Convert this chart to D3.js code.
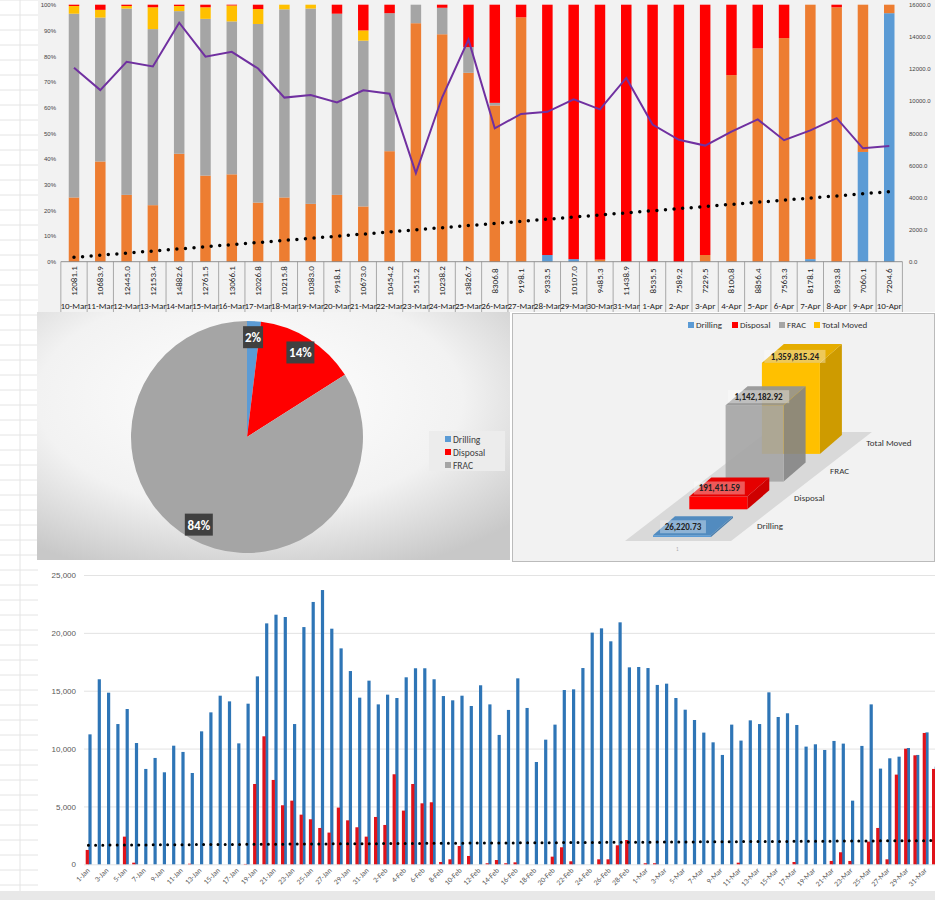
<!DOCTYPE html>
<html>
<head>
<meta charset="utf-8">
<script src="https://cdn.jsdelivr.net/npm/d3@7"></script>
<style>
  body { margin: 0; background: #fff; }
  svg { display: block; font-family: Calibri, Carlito, "Liberation Sans", Arial, sans-serif; }
</style>
</head>
<body>
<svg id="chart" width="935" height="900"></svg>
<script>
// ---- top chart: 100% stacked share per day + total moved ----
const topDays = ['10-Mar','11-Mar','12-Mar','13-Mar','14-Mar','15-Mar','16-Mar','17-Mar','18-Mar','19-Mar','20-Mar','21-Mar','22-Mar','23-Mar','24-Mar','25-Mar','26-Mar','27-Mar','28-Mar','29-Mar','30-Mar','31-Mar','1-Apr','2-Apr','3-Apr','4-Apr','5-Apr','6-Apr','7-Apr','8-Apr','9-Apr','10-Apr']
const shareBlue   = [0,0,0,0,0,0,0,0,0,0,0,0,0,0,0,0,0,0,2.6,1,0,0,0,0,0,0,0,0,1,0,42.7,96.7]
const shareOrange = [25,39,26,22,42,33.5,34,23,25,22.5,26,21.5,43,92.8,88.5,73.5,60.8,95.1,0,0,0.8,0,0,0,2.6,72.6,83,87,99,99,57.3,3.3]
const shareGray   = [71.5,56,72.5,68.5,55.5,61,59.5,69.5,73.2,76,70.5,64.5,53.7,7.2,10.3,10,1,0,0,0,0,0,0,0,0,0,0,0,0,0,0,0]
const shareYellow = [3,3,1,8.5,2,4.5,6.2,5.8,1.8,1.5,0,4,0,0,0,0,0,0,0,0,0,0,0,0,0,0,0,0,0,0,0,0]
const shareRed    = [0.5,2,0.5,1,0.5,1,0.3,1.7,0,0,3.5,10,3.3,0,1.2,16.5,38.2,4.9,97.4,99,99.2,100,100,100,97.4,27.4,17,13,0,1,0,0]
const dayTotals = [12081.1,10683.9,12445.0,12153.4,14882.6,12761.5,13066.1,12026.8,10215.8,10383.0,9918.1,10673.0,10454.2,5515.2,10238.2,13826.7,8306.8,9198.1,9333.5,10107.0,9485.3,11438.9,8535.5,7589.2,7229.5,8100.8,8856.4,7563.3,8178.1,8933.8,7060.1,7204.6]
const topTrend = [270, 4360]

// ---- totals (pie + 3D bars) ----
const totalNames = ['Drilling','Disposal','FRAC','Total Moved']
const totalValues = [26220.73, 191411.59, 1142182.92, 1359815.24]

// ---- bottom chart: daily volumes from 1-Jan ----
const dailyBlue = [11230,15990,14830,12120,13420,10480,8240,9190,7950,10250,9710,7890,11490,13130,14570,14080,10450,13880,16240,20820,21570,21370,12120,20500,22670,23700,20360,18660,16700,14400,15870,13820,14660,14370,16160,16940,16940,15990,14540,14170,14570,13680,15470,13820,11180,13340,16070,13510,8840,10770,12070,15060,15120,16960,20020,20390,19270,20910,17020,17050,16960,15500,15610,14370,13360,12470,11380,10540,9450,12070,10690,12440,12120,14860,12730,13050,12040,10170,10370,9880,10660,10430,5500,10230,13820,8270,9160,9300,10050,9450,11400,8440]
const dailyRed  = [1240,0,0,0,2390,140,0,0,0,0,0,50,0,0,0,0,0,30,6940,11060,7290,5100,5500,4290,3890,3140,2740,4900,3800,3200,2390,4090,3400,7780,4640,6940,5270,5360,200,430,1580,720,0,90,370,90,170,0,0,0,660,1470,260,0,0,430,430,1640,2100,0,90,90,0,0,0,0,0,0,0,0,140,0,0,0,0,0,200,0,0,0,290,1040,290,0,1960,3140,430,7750,9990,9420,11350,8240]
const dailyTrend = [1650, 2050]
const yTicksBottom = [0, 5000, 10000, 15000, 20000, 25000]

const C = { blue: '#5b9bd5', orange: '#ed7d31', gray: '#a5a5a5', yellow: '#ffc000', red: '#ff0000', purple: '#7030a0' }

const svg = d3.select('#chart')
const defs = svg.append('defs')

// spreadsheet gutter on the left
const gutter = svg.append('g')
gutter.append('rect').attr('width', 38).attr('height', 900).attr('fill', '#fff')
d3.range(0, 900, 15).forEach(y => gutter.append('line').attr('x1', 0).attr('x2', 38).attr('y1', y).attr('y2', y).attr('stroke', '#e4e4e4'))
gutter.append('line').attr('x1', 20).attr('x2', 20).attr('y1', 0).attr('y2', 900).attr('stroke', '#e4e4e4')

// ================= TOP CHART =================
const topG = svg.append('g')
topG.append('rect').attr('x', 38).attr('y', 0).attr('width', 897).attr('height', 312).attr('fill', '#f2f2f2')

const xTop = d3.scaleBand().domain(topDays).range([60.85, 902.4])
const yPct = d3.scaleLinear().domain([0, 1]).range([261.7, 4.7])
const yVol = d3.scaleLinear().domain([0, 16000]).range([261.7, 4.7])

const rows = topDays.map((d, i) => ({ day: d, blue: shareBlue[i], orange: shareOrange[i], gray: shareGray[i], yellow: shareYellow[i], red: shareRed[i] }))
const keys = ['blue', 'orange', 'gray', 'yellow', 'red']
const stacked = d3.stack().keys(keys).offset(d3.stackOffsetExpand)(rows)
const bw = 10.5
topG.append('g').selectAll('g').data(stacked).join('g')
  .attr('fill', s => C[s.key])
  .selectAll('rect').data(s => s).join('rect')
  .attr('x', d => xTop(d.data.day) + xTop.bandwidth() / 2 - bw / 2)
  .attr('width', bw)
  .attr('y', d => yPct(d[1]))
  .attr('height', d => yPct(d[0]) - yPct(d[1]))

const axL = topG.append('g').attr('transform', 'translate(58,0)')
  .call(d3.axisLeft(yPct).tickValues(d3.range(0, 1.01, 0.1)).tickFormat(d3.format('.0%')).tickSize(0).tickPadding(2))
axL.select('.domain').remove()
axL.selectAll('text').attr('font-size', 6).attr('fill', '#444')
const axR = topG.append('g').attr('transform', 'translate(907,0)')
  .call(d3.axisRight(yVol).tickValues(d3.range(0, 16001, 2000)).tickFormat(d3.format('.1f')).tickSize(0).tickPadding(2))
axR.select('.domain').remove()
axR.selectAll('text').attr('font-size', 6).attr('fill', '#444')

// dotted trend
topG.append('line')
  .attr('x1', xTop(topDays[0]) + xTop.bandwidth() / 2).attr('y1', yVol(topTrend[0]))
  .attr('x2', xTop(topDays[topDays.length - 1]) + xTop.bandwidth() / 2).attr('y2', yVol(topTrend[1]))
  .attr('stroke', '#000').attr('stroke-width', 3.5).attr('stroke-linecap', 'round').attr('stroke-dasharray', '0 8.6')

// total line
topG.append('path').datum(dayTotals)
  .attr('d', d3.line().x((v, i) => xTop(topDays[i]) + xTop.bandwidth() / 2).y(v => yVol(v)))
  .attr('fill', 'none').attr('stroke', C.purple).attr('stroke-width', 2)

// data table under the axis
const table = topG.append('g')
table.append('line').attr('x1', xTop.range()[0]).attr('x2', xTop.range()[1]).attr('y1', 261.7).attr('y2', 261.7).attr('stroke', '#777').attr('stroke-width', 0.8)
table.selectAll('.sep').data(topDays.concat(['end'])).join('line')
  .attr('x1', (d, i) => xTop.range()[0] + i * xTop.step()).attr('x2', (d, i) => xTop.range()[0] + i * xTop.step())
  .attr('y1', 261.7).attr('y2', 312).attr('stroke', '#888').attr('stroke-width', 0.7)
table.selectAll('.val').data(dayTotals).join('text')
  .attr('transform', (v, i) => `translate(${xTop(topDays[i]) + xTop.bandwidth() / 2 + 3},281) rotate(-90)`)
  .attr('text-anchor', 'middle').attr('font-size', 9).attr('fill', '#222')
  .text(v => v.toFixed(1))
table.selectAll('.day').data(topDays).join('text')
  .attr('x', d => xTop(d) + xTop.bandwidth() / 2).attr('y', 309)
  .attr('text-anchor', 'middle').attr('font-size', 9).attr('fill', '#222')
  .text(d => d)

// ================= PIE =================
const pg = defs.append('radialGradient').attr('id', 'pieBg').attr('cx', '45%').attr('cy', '35%').attr('r', '75%')
pg.append('stop').attr('offset', '0%').attr('stop-color', '#ffffff')
pg.append('stop').attr('offset', '60%').attr('stop-color', '#f2f2f2')
pg.append('stop').attr('offset', '100%').attr('stop-color', '#c8c8c8')
svg.append('rect').attr('x', 37).attr('y', 312).attr('width', 473).attr('height', 248).attr('fill', 'url(#pieBg)')

const pieNames = totalNames.slice(0, 3)
const pieColors = [C.blue, C.red, C.gray]
const pieData = d3.pie().sort(null)(totalValues.slice(0, 3))
const pieG = svg.append('g').attr('transform', 'translate(247,437)')
const arc = d3.arc().innerRadius(0).outerRadius(116)
const labelArc = d3.arc().innerRadius(100).outerRadius(100)
pieG.selectAll('path').data(pieData).join('path')
  .attr('d', arc).attr('fill', (d, i) => pieColors[i])
const pct = d3.format('.0%')
const sum = d3.sum(totalValues.slice(0, 3))
const lab = pieG.selectAll('.lab').data(pieData).join('g').attr('transform', d => `translate(${labelArc.centroid(d)})`)
lab.append('rect').attr('x', d => d.value / sum < 0.05 ? -10 : -14).attr('y', -11)
  .attr('width', d => d.value / sum < 0.05 ? 20 : 28).attr('height', 22).attr('fill', '#404040')
lab.append('text').attr('text-anchor', 'middle').attr('dy', 5).attr('fill', '#fff')
  .attr('font-size', 13).attr('font-weight', 'bold').text(d => pct(d.value / sum))

const pl = svg.append('g').attr('transform', 'translate(429,431)')
pl.append('rect').attr('width', 76).attr('height', 40).attr('fill', '#ececec')
pieNames.forEach((n, i) => {
  pl.append('rect').attr('x', 16).attr('y', 5 + i * 13).attr('width', 6).attr('height', 6).attr('fill', pieColors[i])
  pl.append('text').attr('x', 24).attr('y', 11.5 + i * 13).attr('font-size', 9.5).attr('fill', '#404040').text(n)
})

// ================= 3D BARS =================
const b3 = svg.append('g')
b3.append('rect').attr('x', 512.5).attr('y', 313.5).attr('width', 422).attr('height', 248).attr('fill', '#f2f2f2').attr('stroke', '#bbb')
const colors3 = [C.blue, C.red, C.gray, C.yellow]
const h3 = d3.scaleLinear().domain([0, d3.max(totalValues)]).range([0, 91])
const step3 = [36.3, -27.7], depth = [22, -19], fw = 58, origin = [653, 537]
const pos = i => [origin[0] + i * step3[0], origin[1] + i * step3[1]]
const catOffset = [37, 40, 34, 47]
const poly = pts => 'M' + pts.map(p => p.join(',')).join('L') + 'Z'
// floor
const fl = [[origin[0] - 28, origin[1] + 4], [origin[0] + 78, origin[1] + 4], [pos(3)[0] + 110, pos(3)[1] - 22], [pos(3)[0] + 5, pos(3)[1] - 22]]
b3.append('path').attr('d', poly(fl)).attr('fill', '#d9d9d9')

// back to front so nearer blocks overlap farther ones
d3.range(totalValues.length).reverse().forEach(i => {
  const v = totalValues[i]
  const [x, y] = pos(i), h = h3(v), col = d3.color(colors3[i])
  const g = b3.append('g').attr('opacity', i === 2 ? 0.9 : 1)
  g.append('path').attr('d', poly([[x + fw, y], [x + fw + depth[0], y + depth[1]], [x + fw + depth[0], y + depth[1] - h], [x + fw, y - h]])).attr('fill', col.darker(0.6))
  g.append('rect').attr('x', x).attr('y', y - h).attr('width', fw).attr('height', h).attr('fill', col)
  g.append('path').attr('d', poly([[x, y - h], [x + fw, y - h], [x + fw + depth[0], y - h + depth[1]], [x + depth[0], y - h + depth[1]]])).attr('fill', col.darker(0.3))
  b3.append('text').attr('x', x + fw + depth[0] + catOffset[i]).attr('y', y - 8).attr('text-anchor', 'middle')
    .attr('font-size', 9).attr('fill', '#333').text(totalNames[i])
})
totalValues.forEach((v, i) => {
  const [x, y] = pos(i), h = h3(v)
  const t = d3.format(',.2f')(v)
  const lx = x + fw / 2 + (i >= 2 ? 4 : 1), ly = y - h - 8 + (i === 3 ? 2 : 0)
  b3.append('rect').attr('x', lx - t.length * 2.55).attr('y', ly - 7).attr('width', t.length * 5.1).attr('height', 13).attr('fill', '#fff').attr('opacity', 0.35)
  b3.append('text').attr('x', lx).attr('y', ly + 3).attr('text-anchor', 'middle').attr('font-size', 9).attr('font-weight', 'bold').attr('fill', '#222').text(t)
})
b3.append('text').attr('x', 676).attr('y', 551).attr('font-size', 5).attr('fill', '#aaa').text('1')
const lg3 = b3.append('g').attr('transform', 'translate(688,325)')
let lx3 = 0
totalNames.forEach((n, i) => {
  lg3.append('rect').attr('x', lx3).attr('y', -3).attr('width', 6).attr('height', 6).attr('fill', colors3[i])
  lg3.append('text').attr('x', lx3 + 8).attr('y', 3).attr('font-size', 9).attr('fill', '#333').text(n)
  lx3 += [44, 47, 35, 0][i]
})

// ================= BOTTOM CHART =================
const bot = svg.append('g')
bot.append('rect').attr('x', 38).attr('y', 563).attr('width', 897).attr('height', 328).attr('fill', '#fff')
bot.append('rect').attr('x', 0).attr('y', 891).attr('width', 935).attr('height', 9).attr('fill', '#e8e8e8')

const start = new Date(2020, 0, 1)
const days = dailyBlue.map((v, i) => d3.timeDay.offset(start, i))
const fmt = d3.timeFormat('%-d-%b')
const xB = d3.scaleBand().domain(days.map(fmt)).range([84.4, 84.4 + days.length * 9.3])
const yB = d3.scaleLinear().domain([0, 25000]).range([864.3, 575])

const gridB = bot.append('g').attr('transform', 'translate(84,0)')
  .call(d3.axisLeft(yB).tickValues(yTicksBottom).tickFormat(d3.format(',')).tickSize(-900).tickPadding(8))
gridB.select('.domain').remove()
gridB.selectAll('line').attr('stroke', '#e3e3e3')
gridB.selectAll('text').attr('font-size', 8).attr('fill', '#595959')

bot.append('g').selectAll('rect').data(dailyBlue).join('rect')
  .attr('x', (v, i) => xB(fmt(days[i])) + 5.6 - 1.6).attr('width', 3.2)
  .attr('y', v => yB(v)).attr('height', v => yB(0) - yB(v)).attr('fill', '#2e75b6')
bot.append('g').selectAll('rect').data(dailyRed).join('rect')
  .attr('x', (v, i) => xB(fmt(days[i])) + 2.9 - 1.6).attr('width', 3.2)
  .attr('y', v => yB(v)).attr('height', v => yB(0) - yB(v)).attr('fill', '#e0131a')

bot.append('line')
  .attr('x1', xB(fmt(days[0])) + 4).attr('y1', yB(dailyTrend[0]))
  .attr('x2', xB(fmt(days[days.length - 1])) + 4).attr('y2', yB(dailyTrend[1]))
  .attr('stroke', '#000').attr('stroke-width', 3).attr('stroke-linecap', 'round').attr('stroke-dasharray', '0 7.2')

bot.append('g').selectAll('text').data(days.filter((d, i) => i % 2 === 0)).join('text')
  .attr('transform', d => `translate(${xB(fmt(d)) + 6},871) rotate(-45)`)
  .attr('text-anchor', 'end').attr('font-size', 7.5).attr('fill', '#595959')
  .text(d => fmt(d))
</script>
</body>
</html>
